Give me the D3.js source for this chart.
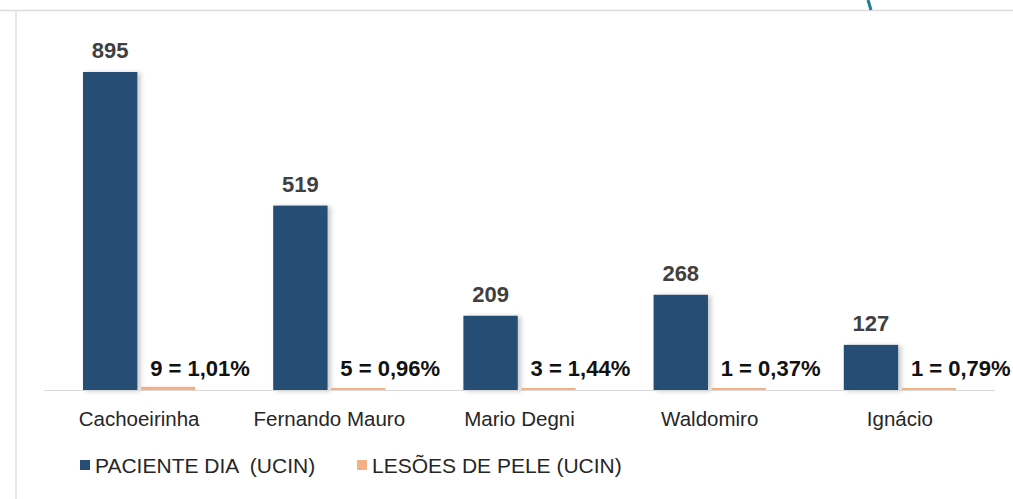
<!DOCTYPE html>
<html>
<head>
<meta charset="utf-8">
<script src="https://cdn.jsdelivr.net/npm/d3@7"></script>
<style>
  body { margin: 0; background: #fff; }
  svg { display: block; font-family: "Liberation Sans", Arial, sans-serif; }
</style>
</head>
<body>
<svg id="chart"></svg>
<script>
const width = 1013;
const height = 499;

// data
const categories = ["Cachoeirinha", "Fernando Mauro", "Mario Degni", "Waldomiro", "Ignácio"];
const pacienteDia = [895, 519, 209, 268, 127];
const lesoes = [9, 5, 3, 1, 1];
const lesoesLabels = ["9 = 1,01%", "5 = 0,96%", "3 = 1,44%", "1 = 0,37%", "1 = 0,79%"];
const seriesNames = ["PACIENTE DIA  (UCIN)", "LESÕES DE PELE (UCIN)"];
const seriesColors = ["#264d73", "#f4b183"];

const svg = d3.select("#chart").attr("width", width).attr("height", height);

// slide frame lines
svg.append("line")
  .attr("x1", 0).attr("x2", width).attr("y1", 10.5).attr("y2", 10.5)
  .attr("stroke", "#dcdcdc").attr("stroke-width", 1.5);
svg.append("line")
  .attr("x1", 16).attr("x2", 16).attr("y1", 10).attr("y2", height)
  .attr("stroke", "#dedede").attr("stroke-width", 1.5);
svg.append("path")
  .attr("d", "M868,0 L871,10")
  .attr("stroke", "#1f7f8c").attr("stroke-width", 3).attr("fill", "none");

const baseline = 390;

const x0 = d3.scaleBand()
  .domain(categories)
  .range([44, 995])
  .paddingInner(0.41)
  .paddingOuter(0.205);

const x1 = d3.scaleBand()
  .domain([0, 1])
  .range([0, x0.bandwidth()])
  .paddingInner(0.06);

const y = d3.scaleLinear()
  .domain([0, 895])
  .range([baseline, 72]);

const defs = svg.append("defs");
const f = defs.append("filter").attr("id", "shadow")
  .attr("x", "-20%").attr("y", "-20%").attr("width", "150%").attr("height", "140%");
f.append("feDropShadow")
  .attr("dx", 3).attr("dy", 1).attr("stdDeviation", 2.5)
  .attr("flood-color", "#000").attr("flood-opacity", 0.22);

const rows = categories.map((c, i) => ({
  cat: c,
  vals: [pacienteDia[i], lesoes[i]],
  label: lesoesLabels[i]
}));

const groups = svg.selectAll("g.grp")
  .data(rows)
  .enter()
  .append("g")
  .attr("class", "grp")
  .attr("transform", (d) => `translate(${x0(d.cat)},0)`);

groups.selectAll("rect")
  .data((d) => d.vals.map((v, k) => ({ v: v, k: k })))
  .enter()
  .append("rect")
  .attr("x", (d) => x1(d.k))
  .attr("width", x1.bandwidth())
  .attr("y", (d) => Math.min(y(d.v), baseline - 2))
  .attr("height", (d) => Math.max(baseline - y(d.v), 2))
  .attr("fill", (d) => seriesColors[d.k])
  .attr("filter", (d) => (d.k === 0 ? "url(#shadow)" : null));

// axis line
svg.append("line")
  .attr("x1", 44).attr("x2", 995)
  .attr("y1", baseline + 0.5).attr("y2", baseline + 0.5)
  .attr("stroke", "#d9d9d9").attr("stroke-width", 1);

// value labels
groups.append("text")
  .attr("x", x1(0) + x1.bandwidth() / 2)
  .attr("y", (d) => y(d.vals[0]) - 14)
  .attr("text-anchor", "middle")
  .style("font-size", "22px")
  .style("font-weight", "bold")
  .style("fill", "#404040")
  .text((d) => d.vals[0]);

groups.append("text")
  .attr("x", x1(1) + x1.bandwidth() / 2 + 32)
  .attr("y", baseline - 14)
  .attr("text-anchor", "middle")
  .style("font-size", "22px")
  .style("font-weight", "bold")
  .style("fill", "#111")
  .text((d) => d.label);

// category labels
const xAxis = d3.axisBottom(x0).tickSize(0).tickPadding(21);
const gx = svg.append("g")
  .attr("transform", `translate(0,${baseline})`)
  .call(xAxis);
gx.select(".domain").remove();
gx.selectAll("text")
  .style("font-size", "20.5px")
  .style("font-family", "'Liberation Sans', Arial, sans-serif")
  .style("fill", "#262626");

// legend
const legendX = [80, 357];
const legend = svg.selectAll("g.leg")
  .data(seriesNames)
  .enter()
  .append("g")
  .attr("class", "leg")
  .attr("transform", (d, i) => `translate(${legendX[i]},473)`);
legend.append("rect")
  .attr("x", 0).attr("y", -13)
  .attr("width", 10).attr("height", 10)
  .attr("fill", (d, i) => seriesColors[i]);
legend.append("text")
  .attr("x", 15).attr("y", 0)
  .style("font-size", "21px")
  .style("white-space", "pre")
  .style("fill", "#262626")
  .text((d) => d);
</script>
</body>
</html>
